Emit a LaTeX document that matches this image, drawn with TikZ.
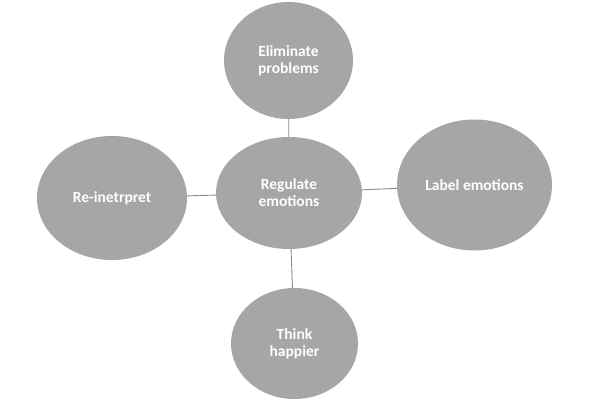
\documentclass[tikz,border=0pt]{standalone}
\usepackage{fontspec}
\setmainfont{Carlito}
\usetikzlibrary{shapes.geometric}
\definecolor{bubble}{HTML}{A6A6A6}
\definecolor{wire}{HTML}{8C8C8C}
\tikzset{
  bubble/.style={ellipse, fill=bubble, draw=none, inner sep=0pt,
    text=white, font=\fontsize{15.5}{17}\selectfont\bfseries, align=center},
  wire/.style={draw=wire, line width=0.9pt}
}
\begin{document}
\begin{tikzpicture}[x=1pt,y=-1pt]
\useasboundingbox (0,0) rectangle (600,404);
\fill[white] (0,0) rectangle (600,404);
\node[bubble, minimum width=146pt, minimum height=112pt] (c) at (289,193) {Regulate\\emotions};
\node[bubble, minimum width=129pt, minimum height=117pt] (t) at (288.5,60.5) {Eliminate\\problems};
\node[bubble, minimum width=150pt, minimum height=124pt] (l) at (112,198) {Re-inetrpret};
\node[bubble, minimum width=155pt, minimum height=131pt] (r) at (474.5,185) {Label emotions};
\node[bubble, minimum width=127pt, minimum height=111pt] (b) at (294.5,343.5) {Think\\happier};
\draw[wire] (c) -- (t);
\draw[wire] (c) -- (l);
\draw[wire] (c) -- (r);
\draw[wire] (c) -- (b);
\end{tikzpicture}
\end{document}
